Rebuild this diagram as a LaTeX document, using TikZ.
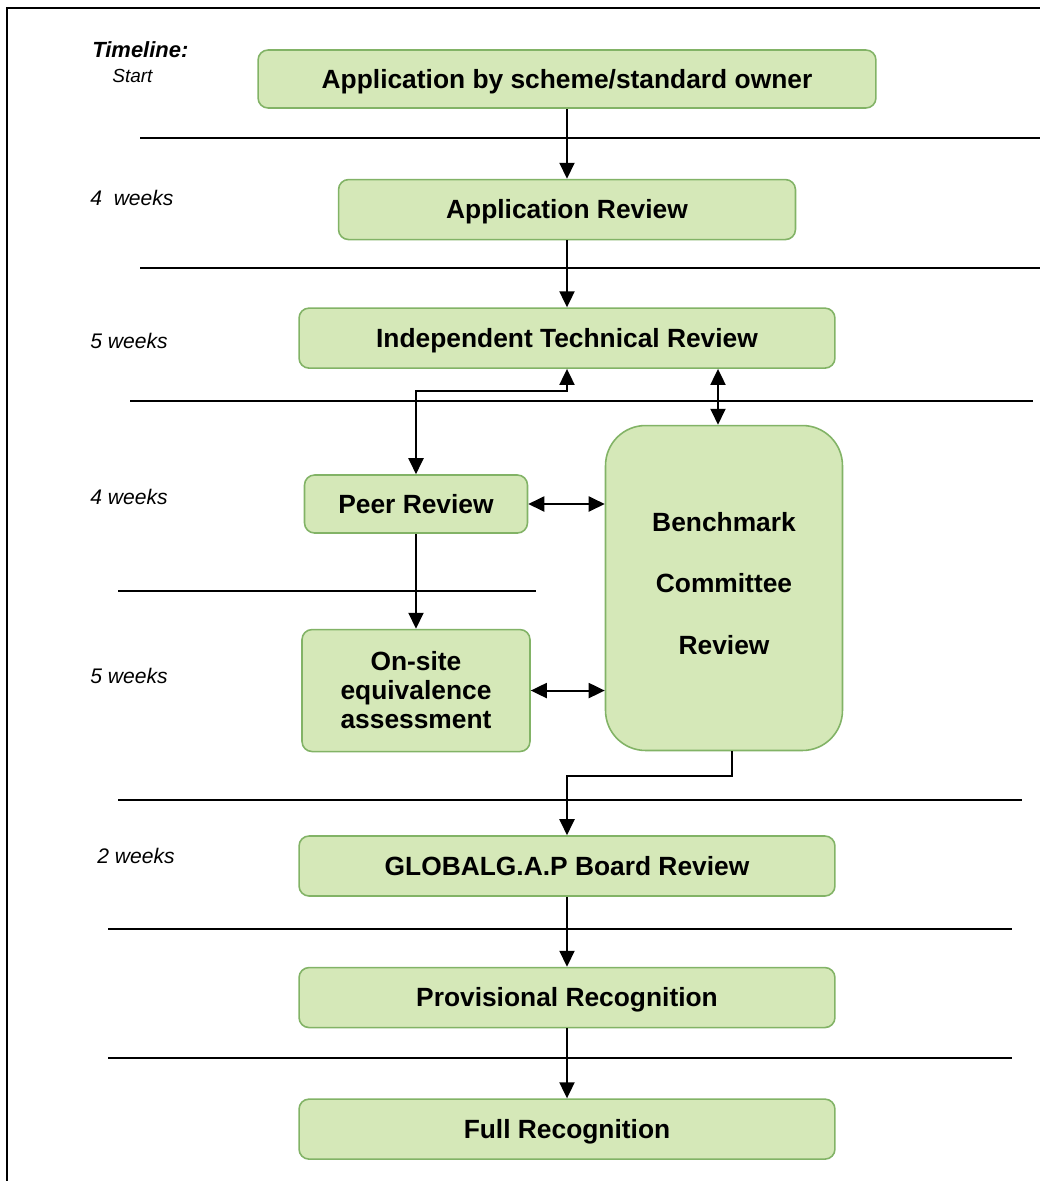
\documentclass[tikz,border=0pt]{standalone}
\usepackage{fontspec}
\setmainfont{Liberation Sans}
\usepackage{xcolor}
\usepackage{tikz}
\usetikzlibrary{calc}
\usetikzlibrary{positioning, arrows.meta}

\definecolor{stagefill}{RGB}{213,232,184}
\definecolor{stageline}{RGB}{130,179,102}

\begin{document}
\begin{tikzpicture}[
    x=0.02cm, y=-0.02cm,
    node distance=1.4cm,
    box/.style={rectangle, rounded corners=0.2cm, draw=stageline, fill=stagefill, line width=0.9pt, align=center, inner sep=0pt, font=\bfseries\fontsize{15}{16.5}\selectfont},
    stage/.style={box, minimum width=10.72cm, minimum height=1.2cm, text height=10.7pt, text depth=0pt},
    arrow/.style={line width=1.1pt, -{Triangle[length=0.32cm, width=0.3cm]}},
    twoway/.style={line width=1.1pt, {Triangle[length=0.32cm, width=0.3cm]}-{Triangle[length=0.32cm, width=0.3cm]}},
    sep/.style={line width=0.8pt},
    week/.style={anchor=west, inner sep=0pt, font=\itshape\fontsize{12}{14}\selectfont}
]
    \useasboundingbox (0,0) rectangle (1040,1181);
    % frame
    \draw [line width=1.4pt] (7,1181) -- (7,8) -- (1040,8);

    % Timeline labels
    \node (tlhead)  [anchor=west, inner sep=0pt, font=\bfseries\itshape\fontsize{12.5}{14}\selectfont] at (92,50) {Timeline:};
    \node (tlstart) [anchor=west, inner sep=0pt, font=\itshape\fontsize{10.8}{13}\selectfont] at (112,76) {Start};
    \node (wk1) [week] at (90,198) {4\ \ weeks};
    \node (wk2) [week] at (90,341) {5 weeks};
    \node (wk3) [week] at (90,497) {4 weeks};
    \node (wk4) [week] at (90,676) {5 weeks};
    \node (wk5) [week] at (97,856) {2 weeks};

    % Phase separators
    \foreach \y/\a/\b in {138/140/1040, 268/140/1040, 401/130/1033, 591/118/536, 800/118/1022, 929/108/1012, 1058/108/1012}
        \draw [sep] (\a,\y) -- (\b,\y);

    % Main chain
    \node (appl) [stage, minimum width=12.36cm, minimum height=1.16cm] at (567,79) {Application by scheme/standard owner};
    \node (arev) [stage, minimum width=9.14cm, below=of appl] {Application Review};
    \node (itr)  [stage, below=1.34cm of arev] {Independent Technical Review};

    % Review loop
    \node (peer)   [box, minimum width=4.46cm, minimum height=1.16cm, text height=10.7pt, text depth=0pt] at (416,504) {Peer Review};
    \node (onsite) [box, minimum width=4.56cm, minimum height=2.44cm, below=1.9cm of peer] {On-site\\equivalence\\assessment};
    \node (bench)  [box, rounded corners=0.8cm, minimum width=4.74cm, minimum height=6.5cm, font=\bfseries\fontsize{15}{35}\selectfont] at (724,588) {Benchmark\\Committee\\Review\\[-29.4pt]};

    % Final steps
    \node (glob) [stage] at (567,866) {GLOBALG.A.P Board Review};
    \node (prov) [stage, below=of glob] {Provisional Recognition};
    \node (full) [stage, below=of prov] {Full Recognition};

    % Connectors
    \draw [arrow] (appl) -- (arev);
    \draw [arrow] (arev) -- (itr);
    \draw [twoway] (itr.south) -- ++(0,22) -| (peer.north);
    \draw [twoway] ([xshift=-0.12cm]bench.north |- itr.south) -- ([xshift=-0.12cm]bench.north);
    \draw [twoway] (peer.east) -- (peer.east -| bench.west);
    \draw [twoway] (onsite.east) -- (onsite.east -| bench.west);
    \draw [arrow] (peer) -- (onsite);
    \draw [arrow] ([xshift=0.16cm]bench.south) -- ++(0,25) -| (glob.north);
    \draw [arrow] (glob) -- (prov);
    \draw [arrow] (prov) -- (full);

\end{tikzpicture}
\end{document}
